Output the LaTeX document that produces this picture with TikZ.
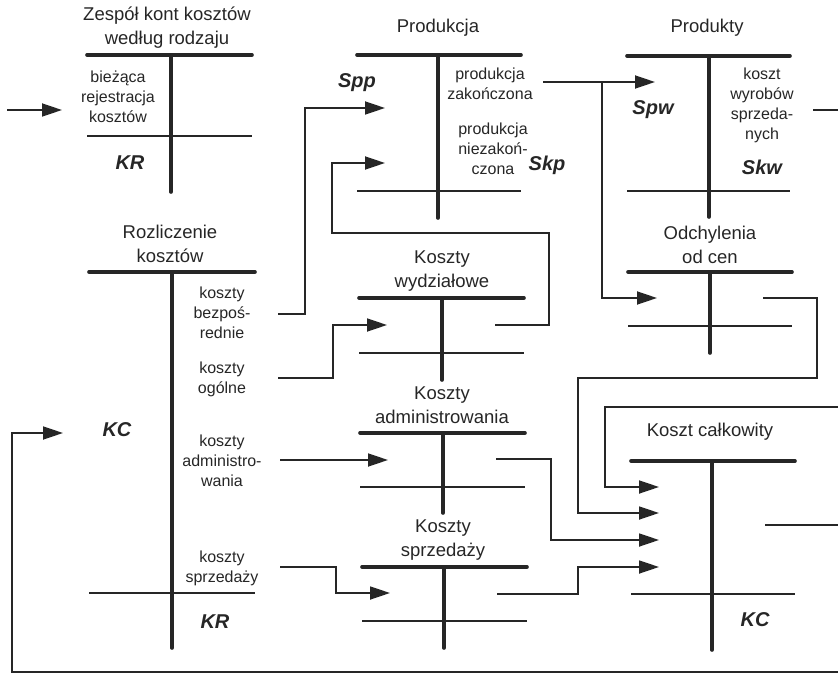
\documentclass[tikz,border=0pt]{standalone}
\usepackage{fontspec}
\setmainfont{Liberation Sans}
\usetikzlibrary{arrows.meta}
\newcommand\TAcc[7]{% name, xleft, xright, xvert, ytop, ylow, yend
  \coordinate (#1-tl) at (#2,#5);
  \coordinate (#1-tr) at (#3,#5);
  \coordinate (#1-vt) at (#4,#5);
  \coordinate (#1-vb) at (#4,#7);
  \coordinate (#1-ll) at (#2,#6);
  \coordinate (#1-lr) at (#3,#6);
  \draw[tbar] (#1-tl) -- (#1-tr);
  \draw[tbar] (#1-vt) -- (#1-vb);
  \draw[tline] (#1-ll) -- (#1-lr);
}
\begin{document}
\begin{tikzpicture}[x=1pt,y=-1pt,
  tbar/.style={line width=3.6pt, line cap=round, color=black!85},
  tline/.style={line width=2pt, color=black!85},
  conn/.style={line width=1.8pt, color=black!85},
  arr/.style={conn, -{Triangle[length=20pt,width=13pt]}},
  title/.style={font=\fontsize{18.5}{24}\selectfont, align=center, inner sep=0pt, text=black!85},
  lab/.style={font=\fontsize{16}{20}\selectfont, align=center, inner sep=0pt, text=black!85},
  sym/.style={font=\fontsize{20}{22}\selectfont\bfseries\itshape, inner sep=0pt, text=black!85},
]
\useasboundingbox (0,0) rectangle (838,674);

% T accounts
\TAcc{kr}{87}{252}{171}{55}{136}{192}
\TAcc{prod}{357}{521}{438}{55}{191}{218}
\TAcc{pty}{627}{790}{709}{56}{191}{217}
\TAcc{roz}{89}{255}{172}{272}{593}{648}
\TAcc{wyd}{359}{524}{442}{298}{353}{380}
\TAcc{odc}{628}{792}{710}{272}{326}{353}
\TAcc{adm}{360}{525}{443}{433}{487}{513}
\TAcc{spr}{362}{527}{444}{567}{621}{648}
\TAcc{kc}{631}{795}{712}{461}{594}{650}

% titles
\node[title] (t-kr) at (167,28) {Zespół kont kosztów\\według rodzaju};
\node[title] (t-prod) at (438,28) {Produkcja};
\node[title] (t-pty) at (707,28) {Produkty};
\node[title] (t-roz) at (170,244) {Rozliczenie\\kosztów};
\node[title] (t-wyd) at (442,271) {Koszty\\wydziałowe};
\node[title] (t-odc) at (710,245) {Odchylenia\\od cen};
\node[title] (t-adm) at (442,405) {Koszty\\administrowania};
\node[title] (t-spr) at (443,540) {Koszty\\sprzedaży};
\node[title] (t-kc) at (710,432) {Koszt całkowity};

% labels
\node[lab] (l-biez) at (118,97) {bieżąca\\rejestracja\\kosztów};
\node[lab] (l-zak) at (490,84) {produkcja\\zakończona};
\node[lab] (l-niez) at (493,149) {produkcja\\niezakoń-\\czona};
\node[lab] (l-wyr) at (762,105) {koszt\\wyrobów\\sprzeda-\\nych};
\node[lab] (l-bezp) at (222,313) {koszty\\bezpoś-\\rednie};
\node[lab] (l-ogol) at (222,379) {koszty\\ogólne};
\node[lab] (l-adm) at (222,461) {koszty\\administro-\\wania};
\node[lab] (l-spr) at (222,568) {koszty\\sprzedaży};

% symbols
\node[sym] (s-kr1) at (130,163) {KR};
\node[sym] (s-spp) at (357,83) {Spp};
\node[sym] (s-skp) at (547,165) {Skp};
\node[sym] (s-spw) at (653,110) {Spw};
\node[sym] (s-skw) at (762,167) {Skw};
\node[sym] (s-kc1) at (117,430) {KC};
\node[sym] (s-kr2) at (215,622) {KR};
\node[sym] (s-kc2) at (755,620) {KC};

% connector coordinates
\coordinate (in-kr) at (7,110);
\coordinate (tip-kr) at (62,110);
\coordinate (bezp) at (278,314);
\coordinate (tip-spp) at (385,108);
\coordinate (wyd-out) at (495,325);
\coordinate (tip-skp) at (385,163);
\coordinate (ogol) at (278,378);
\coordinate (tip-wyd) at (387,325);
\coordinate (zak) at (543,82);
\coordinate (tip-spw) at (655,82);
\coordinate (br) at (602,82);
\coordinate (tip-odc) at (657,298);
\coordinate (pty-out) at (813,110);
\coordinate (pty-end) at (838,110);
\coordinate (odc-out) at (763,298);
\coordinate (tip-kc1) at (659,487);
\coordinate (tip-kc2) at (659,513);
\coordinate (tip-kc3) at (659,540);
\coordinate (tip-kc4) at (659,567);
\coordinate (ret-in) at (838,407);
\coordinate (adm-in) at (280,460);
\coordinate (tip-adm) at (388,460);
\coordinate (adm-out) at (496,459);
\coordinate (spr-in) at (280,567);
\coordinate (tip-spr) at (390,593);
\coordinate (spr-out) at (497,594);
\coordinate (kc-out) at (765,525);
\coordinate (kc-end) at (838,525);
\coordinate (bot-in) at (838,672);
\coordinate (tip-kc0) at (63,433);

% connectors
\draw[arr] (in-kr) -- (tip-kr);
\draw[arr] (bezp) -- (305,314) -- (305,108) -- (tip-spp);
\draw[arr] (wyd-out) -- (549,325) -- (549,233) -- (332,233) -- (332,163) -- (tip-skp);
\draw[arr] (ogol) -- (333,378) -- (333,325) -- (tip-wyd);
\draw[arr] (zak) -- (tip-spw);
\draw[arr] (br) -- (602,298) -- (tip-odc);
\draw[conn] (pty-out) -- (pty-end);
\draw[arr] (odc-out) -- (817,298) -- (817,378) -- (578,378) -- (578,513) -- (tip-kc2);
\draw[arr] (ret-in) -- (605,407) -- (605,487) -- (tip-kc1);
\draw[arr] (adm-in) -- (tip-adm);
\draw[arr] (adm-out) -- (551,459) -- (551,540) -- (tip-kc3);
\draw[arr] (spr-in) -- (336,567) -- (336,593) -- (tip-spr);
\draw[arr] (spr-out) -- (578,594) -- (578,567) -- (tip-kc4);
\draw[conn] (kc-out) -- (kc-end);
\draw[arr] (bot-in) -- (12,672) -- (12,433) -- (tip-kc0);
\end{tikzpicture}
\end{document}
